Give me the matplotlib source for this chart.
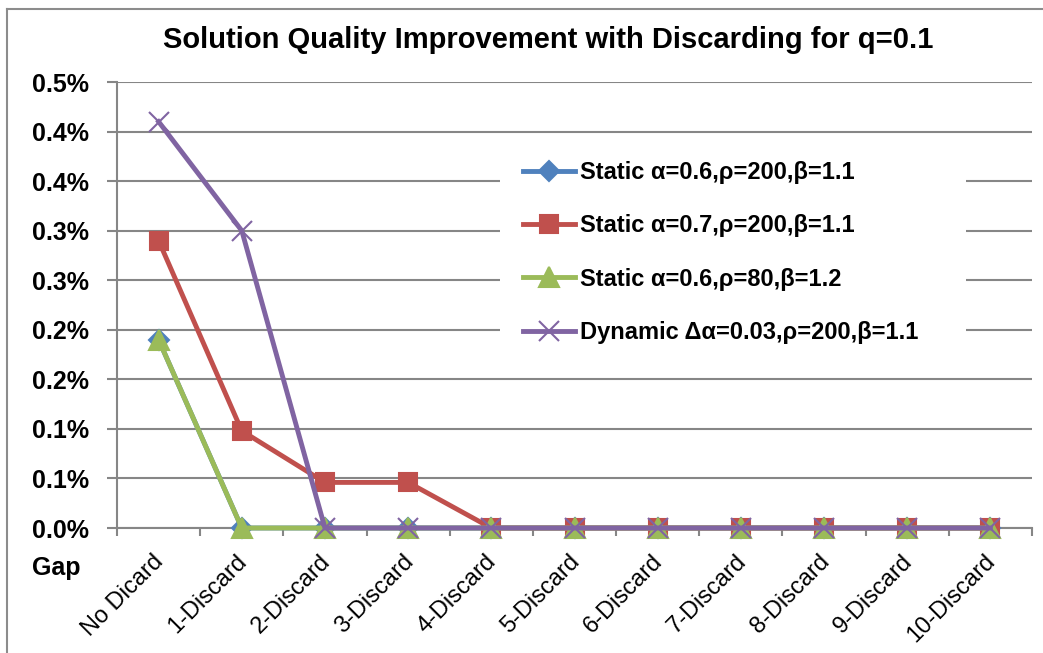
import matplotlib
matplotlib.use("Agg")
import matplotlib.pyplot as plt
from matplotlib.patches import Rectangle
from matplotlib.lines import Line2D
from matplotlib.transforms import ScaledTranslation

plt.rcParams['font.family'] = ['Liberation Sans', 'DejaVu Sans']

# data (gap in %)
categories = ['No Dicard', '1-Discard', '2-Discard', '3-Discard', '4-Discard', '5-Discard',
              '6-Discard', '7-Discard', '8-Discard', '9-Discard', '10-Discard']
static_06_200 = [0.19, 0, 0, 0, 0, 0, 0, 0, 0, 0, 0]
static_07_200 = [0.29, 0.098, 0.046, 0.046, 0, 0, 0, 0, 0, 0, 0]
static_06_80 = [0.19, 0, 0, 0, 0, 0, 0, 0, 0, 0, 0]
dynamic_003 = [0.41, 0.30, 0, 0, 0, 0, 0, 0, 0, 0, 0]

ytick_vals = [0, 0.05, 0.10, 0.15, 0.20, 0.25, 0.30, 0.35, 0.40, 0.45]
ytick_labels = ['0.0%', '0.1%', '0.1%', '0.2%', '0.2%', '0.3%', '0.3%', '0.4%', '0.4%', '0.5%']

series = [
    ('Static α=0.6,ρ=200,β=1.1', static_06_200, '#4F81BD', 'D', 10),
    ('Static α=0.7,ρ=200,β=1.1', static_07_200, '#C0504D', 's', 13),
    ('Static α=0.6,ρ=80,β=1.2', static_06_80, '#9BBB59', '^', 14),
    ('Dynamic Δα=0.03,ρ=200,β=1.1', dynamic_003, '#8064A2', 'x', 14),
]

fig = plt.figure(figsize=(10.43, 6.53), dpi=100)
ax = fig.add_axes([117/1043, 1 - 528/653, (1032 - 117)/1043, (528 - 82)/653])

x = list(range(len(categories)))
for name, vals, col, mk, ms in series:
    ax.plot(x, vals, color=col, lw=3.5, marker=mk, markersize=ms,
            markeredgewidth=1.5, label=name, clip_on=False, zorder=3)

ax.set_xlim(-0.5, len(categories) - 0.5)
ax.set_ylim(0, 0.45)
ax.set_yticks(ytick_vals)
ax.set_yticklabels(ytick_labels, fontsize=18, fontweight='bold')
ax.set_xticks(x)
ax.set_xticklabels(categories, fontsize=17, rotation=45, ha='right',
                   rotation_mode='anchor')
ax.set_xticks([i - 0.5 for i in range(len(categories) + 1)], minor=True)
ax.tick_params(axis='x', which='major', length=0, pad=14)
ax.tick_params(axis='x', which='minor', length=6, width=1.5, color='#868686')
ax.tick_params(axis='y', length=7, width=1.5, color='#868686', pad=13)

ax.set_axisbelow(True)
ax.grid(axis='y', color='#868686', lw=1.5)
for s in ['top', 'right']:
    ax.spines[s].set_visible(False)
for s in ['left', 'bottom']:
    ax.spines[s].set_color('#868686')
    ax.spines[s].set_linewidth(1.5)

# white area behind the legend
ax.add_patch(Rectangle((500/1043, 1 - 370/653), 466/1043, 230/653,
                       transform=fig.transFigure, facecolor='white',
                       edgecolor='none', zorder=1))
ax.legend(loc='upper left', bbox_to_anchor=(502/1043, 1 - 140/653),
          bbox_transform=fig.transFigure, frameon=False,
          prop={'size': 17, 'weight': 'bold'}, handlelength=2.2,
          handletextpad=0.2, labelspacing=1.28)

fig.text(548/1043, 1 - 40/653, 'Solution Quality Improvement with Discarding for q=0.1',
         ha='center', va='center', fontsize=21, fontweight='bold')
fig.text(32/1043, 1 - 568/653, 'Gap', ha='left', va='center', fontsize=18,
         fontweight='bold')

# chart border
fig.add_artist(Line2D([7/1043, 7/1043], [0, 1 - 9/653], transform=fig.transFigure,
                      color='#8C8C8C', lw=1.5))
fig.add_artist(Line2D([7/1043, 1], [1 - 9/653, 1 - 9/653], transform=fig.transFigure,
                      color='#8C8C8C', lw=1.5))

# nudge the category labels a little left/down once the ticks exist
fig.canvas.draw()
shift = ScaledTranslation(-6/100, -3/100, fig.dpi_scale_trans)
for tick in ax.xaxis.get_major_ticks():
    tick.label1.set_transform(tick.label1.get_transform() + shift)

fig.savefig('out.png', dpi=100)
